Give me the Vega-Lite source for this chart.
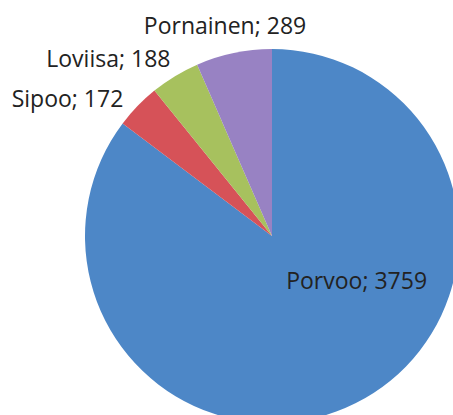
{
  "$schema": "https://vega.github.io/schema/vega-lite/v6.json",
  "width": 362,
  "height": 358,
  "autosize": {"type": "none"},
  "padding": {"left": 91, "top": 57, "right": 0, "bottom": 0},
  "background": "white",
  "config": {"view": {"stroke": null}},
  "data": {
    "values": [
      {"name": "Porvoo", "value": 3759, "order": 1},
      {"name": "Sipoo", "value": 172, "order": 2},
      {"name": "Loviisa", "value": 188, "order": 3},
      {"name": "Pornainen", "value": 289, "order": 4}
    ]
  },
  "transform": [{"calculate": "datum.name + '; ' + datum.value", "as": "label"}],
  "encoding": {
    "theta": {"field": "value", "type": "quantitative", "stack": true},
    "order": {"field": "order", "type": "quantitative"}
  },
  "layer": [
    {
      "mark": {"type": "arc", "radius": 187, "stroke": null},
      "encoding": {
        "color": {
          "field": "name",
          "type": "nominal",
          "scale": {
            "domain": ["Porvoo", "Sipoo", "Loviisa", "Pornainen"],
            "range": ["#4D87C7", "#D65258", "#A7C15E", "#9882C3"]
          },
          "legend": null
        }
      }
    },
    {
      "mark": {"type": "text", "radius": 100, "dx": 40, "dy": -36.5, "align": "center", "baseline": "alphabetic", "font": "Open Sans", "fontSize": 23, "color": "#222222"},
      "encoding": {"text": {"condition": {"test": "datum.name === 'Porvoo'", "field": "label", "type": "nominal"}, "value": ""}}
    },
    {
      "mark": {"type": "text", "radius": 200, "dx": -60.7, "dy": 10, "align": "center", "baseline": "alphabetic", "font": "Open Sans", "fontSize": 23, "color": "#222222"},
      "encoding": {"text": {"condition": {"test": "datum.name === 'Sipoo'", "field": "label", "type": "nominal"}, "value": ""}}
    },
    {
      "mark": {"type": "text", "radius": 200, "dx": -59.8, "dy": 1.9, "align": "center", "baseline": "alphabetic", "font": "Open Sans", "fontSize": 23, "color": "#222222"},
      "encoding": {"text": {"condition": {"test": "datum.name === 'Loviisa'", "field": "label", "type": "nominal"}, "value": ""}}
    },
    {
      "mark": {"type": "text", "radius": 200, "dx": -6.1, "dy": -6.2, "align": "center", "baseline": "alphabetic", "font": "Open Sans", "fontSize": 23, "color": "#222222"},
      "encoding": {"text": {"condition": {"test": "datum.name === 'Pornainen'", "field": "label", "type": "nominal"}, "value": ""}}
    }
  ]
}
